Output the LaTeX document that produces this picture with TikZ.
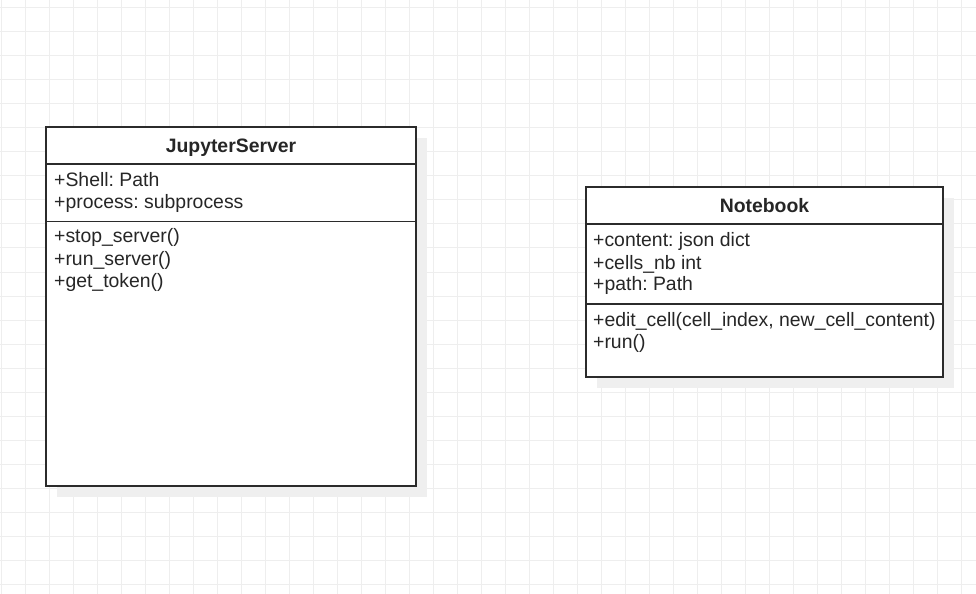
\documentclass[tikz,border=0pt]{standalone}
\usepackage{fontspec}
\setmainfont{Liberation Sans}
\frenchspacing
\definecolor{gridc}{HTML}{EEEEEE}
\definecolor{shadowc}{HTML}{EFEFEF}
\definecolor{linec}{HTML}{2B2B2B}
\begin{document}
\begin{tikzpicture}[x=1bp,y=-1bp,
  gridline/.style={draw=gridc,line width=1bp},
  shadowbox/.style={fill=shadowc,draw=none},
  classbox/.style={draw=linec,line width=1.6bp,fill=white,rectangle,inner sep=0pt,outer sep=0pt,anchor=north west},
  divider/.style={draw=linec,line width=1.6bp},
  headtxt/.style={font=\fontsize{19.4bp}{22bp}\selectfont\bfseries,text=black!85,anchor=base,inner sep=0pt},
  membertxt/.style={font=\fontsize{19.4bp}{22bp}\selectfont,text=black!85,anchor=base west,inner sep=0pt}]
\useasboundingbox (0,0) rectangle (976,594);
\fill[white] (0,0) rectangle (976,594);
\foreach \i in {0,...,40} \draw[gridline] ({1+24*\i},0) -- ({1+24*\i},594);
\foreach \j in {0,...,24} \draw[gridline] (0,{8+24*\j}) -- (976,{8+24*\j});
% shadows
\fill[shadowbox] (57,138) rectangle (427,497);
\fill[shadowbox] (597,198) rectangle (954,388);
% JupyterServer
\node[classbox,minimum width=370bp,minimum height=359bp] (js) at (46,127) {};
\draw[divider] ([yshift=-37bp]js.north west) -- ([yshift=-37bp]js.north east);
\draw[divider] ([yshift=-94.5bp]js.north west) -- ([yshift=-94.5bp]js.north east);
\node[headtxt] (jsname) at (231,152.5) {JupyterServer};
\node[membertxt] (jsa1) at (54,186.7) {+Shell: Path};
\node[membertxt] (jsa2) at (54,208.5) {+process: subprocess};
\node[membertxt] (jsm1) at (54,242.7) {+stop\_server()};
\node[membertxt] (jsm2) at (54,265.3) {+run\_server()};
\node[membertxt] (jsm3) at (54,288) {+get\_token()};
% Notebook
\node[classbox,minimum width=357bp,minimum height=190bp] (nb) at (586,187) {};
\draw[divider] ([yshift=-37bp]nb.north west) -- ([yshift=-37bp]nb.north east);
\draw[divider] ([yshift=-117bp]nb.north west) -- ([yshift=-117bp]nb.north east);
\node[headtxt] (nbname) at (764.5,212.3) {Notebook};
\node[membertxt] (nba1) at (593,246.7) {+content: json dict};
\node[membertxt] (nba2) at (593,269.3) {+cells\_nb int};
\node[membertxt] (nba3) at (593,291) {+path: Path};
\node[membertxt] (nbm1) at (593,326.7) {+edit\_cell(cell\_index, new\_cell\_content)};
\node[membertxt] (nbm2) at (593,348.3) {+run()};
\end{tikzpicture}
\end{document}
